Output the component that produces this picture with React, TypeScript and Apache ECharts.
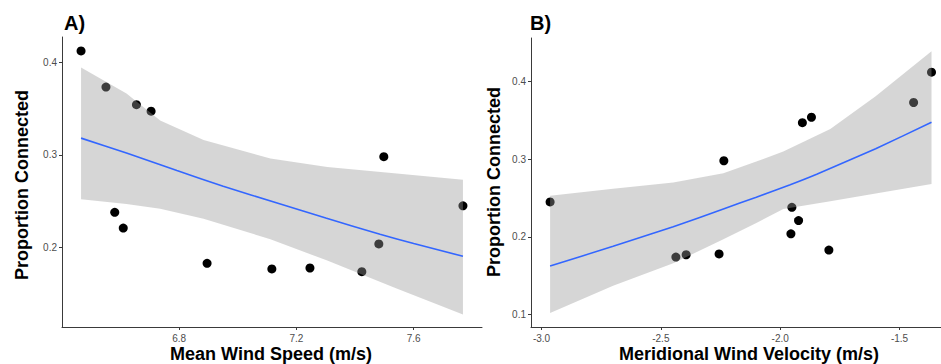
import React, { useEffect, useRef } from "react";
import * as echarts from "echarts";

// Observed data (same 13 sites in both panels)
const proportion = [0.412, 0.373, 0.354, 0.347, 0.238, 0.221, 0.183, 0.177, 0.178, 0.174, 0.204, 0.298, 0.245];
const meanWindSpeed = [6.465, 6.55, 6.654, 6.704, 6.58, 6.609, 6.895, 7.116, 7.246, 7.423, 7.481, 7.498, 7.768];
const meridionalWind = [-1.366, -1.441, -1.869, -1.907, -1.951, -1.923, -1.796, -2.394, -2.256, -2.437, -1.955, -2.236, -2.964];

// Panel A fit and confidence band
const fitAX = [6.465, 6.62, 6.792, 6.95, 7.145, 7.3, 7.485, 7.6, 7.768];
const fitAY = [0.318, 0.302, 0.283, 0.266, 0.247, 0.232, 0.2143, 0.2045, 0.1906];
const bandAX = [6.465, 6.62, 6.735, 6.883, 7.111, 7.305, 7.533, 7.768];
const bandAUpper = [0.394, 0.366, 0.337, 0.316, 0.296, 0.287, 0.28, 0.273];
const bandALower = [0.252, 0.247, 0.242, 0.231, 0.209, 0.186, 0.157, 0.128];

// Panel B fit and confidence band
const fitBX = [-2.964, -2.7, -2.448, -2.238, -2.1, -1.958, -1.847, -1.6, -1.366];
const fitBY = [0.1625, 0.188, 0.213, 0.236, 0.251, 0.267, 0.2805, 0.3135, 0.3475];
const bandBX = [-2.964, -2.7, -2.448, -2.238, -2.1, -1.987, -1.79, -1.6, -1.366];
const bandBUpper = [0.253, 0.262, 0.27, 0.282, 0.297, 0.31, 0.339, 0.381, 0.439];
const bandBLower = [0.102, 0.137, 0.166, 0.197, 0.218, 0.236, 0.246, 0.256, 0.268];

// Tick labels
const ticksAX = [6.8, 7.2, 7.6];
const ticksAY = [0.2, 0.3, 0.4];
const ticksBX = [-3.0, -2.5, -2.0, -1.5];
const ticksBY = [0.1, 0.2, 0.3, 0.4];

const FONT = "'Liberation Sans', Arial, Helvetica, sans-serif";

function axisCommon(ticks: number[], min: number, max: number, gridIndex: number, isX: boolean) {
  return {
    type: "value",
    gridIndex,
    min,
    max,
    splitLine: { show: false },
    axisLine: { show: true, onZero: false, lineStyle: { color: "#3a3a3a", width: 1 } },
    axisTick: { show: true, length: 3, lineStyle: { color: "#3a3a3a" }, customValues: ticks },
    axisLabel: {
      show: true,
      color: "#4d4d4d",
      fontSize: 10,
      fontFamily: FONT,
      margin: isX ? 6 : 5,
      customValues: ticks,
      formatter: (v: number) => v.toFixed(1),
    },
  };
}

function bandSeries(xs: number[], up: number[], lo: number[], idx: number) {
  return {
    type: "custom",
    xAxisIndex: idx,
    yAxisIndex: idx,
    z: 3,
    silent: true,
    data: [[xs[0], up[0]]],
    renderItem: (params: any, api: any) => {
      const pts: number[][] = [];
      for (let i = 0; i < xs.length; i++) pts.push(api.coord([xs[i], up[i]]));
      for (let i = xs.length - 1; i >= 0; i--) pts.push(api.coord([xs[i], lo[i]]));
      return {
        type: "polygon",
        shape: { points: pts },
        style: { fill: "rgba(153,153,153,0.4)", stroke: "none" },
      };
    },
  };
}

function lineSeries(xs: number[], ys: number[], idx: number) {
  return {
    type: "line",
    xAxisIndex: idx,
    yAxisIndex: idx,
    z: 4,
    symbol: "none",
    smooth: 0.15,
    lineStyle: { color: "#3366FF", width: 1.6 },
    data: xs.map((x, i) => [x, ys[i]]),
  };
}

function scatterSeries(xs: number[], ys: number[], idx: number) {
  return {
    type: "scatter",
    xAxisIndex: idx,
    yAxisIndex: idx,
    z: 2,
    symbolSize: 9,
    itemStyle: { color: "#000000", opacity: 1 },
    data: xs.map((x, i) => [x, ys[i]]),
  };
}

export default function App() {
  const ref = useRef<HTMLDivElement>(null);
  useEffect(() => {
    if (!ref.current) return;
    const chart = echarts.init(ref.current, null, { renderer: "svg" });
    chart.setOption({
      animation: false,
      backgroundColor: "#ffffff",
      textStyle: { fontFamily: FONT },
      grid: [
        { left: 62, top: 37, width: 420, height: 290 },
        { left: 531, top: 38, width: 419.6, height: 289 },
      ],
      xAxis: [
        axisCommon(ticksAX, 6.4, 7.833, 0, true),
        axisCommon(ticksBX, -3.044, -1.286, 1, true),
      ],
      yAxis: [
        axisCommon(ticksAY, 0.1144, 0.427, 0, false),
        axisCommon(ticksBY, 0.084, 0.456, 1, false),
      ],
      series: [
        scatterSeries(meanWindSpeed, proportion, 0),
        bandSeries(bandAX, bandAUpper, bandALower, 0),
        lineSeries(fitAX, fitAY, 0),
        scatterSeries(meridionalWind, proportion, 1),
        bandSeries(bandBX, bandBUpper, bandBLower, 1),
        lineSeries(fitBX, fitBY, 1),
      ],
      graphic: [
        { type: "text", left: 64, top: 13, style: { text: "A)", fontSize: 20, fontWeight: "bold", fill: "#000", fontFamily: FONT } },
        { type: "text", left: 530, top: 13, style: { text: "B)", fontSize: 20, fontWeight: "bold", fill: "#000", fontFamily: FONT } },
        {
          type: "text", x: 22, y: 185, rotation: Math.PI / 2,
          style: { text: "Proportion Connected", fontSize: 18, fontWeight: "bold", fill: "#000", fontFamily: FONT, align: "center", verticalAlign: "middle" },
        },
        {
          type: "text", x: 494, y: 182, rotation: Math.PI / 2,
          style: { text: "Proportion Connected", fontSize: 18, fontWeight: "bold", fill: "#000", fontFamily: FONT, align: "center", verticalAlign: "middle" },
        },
        {
          type: "text", x: 271, y: 354,
          style: { text: "Mean Wind Speed (m/s)", fontSize: 18, fontWeight: "bold", fill: "#000", fontFamily: FONT, align: "center", verticalAlign: "middle" },
        },
        {
          type: "text", x: 749, y: 354,
          style: { text: "Meridional Wind Velocity (m/s)", fontSize: 18, fontWeight: "bold", fill: "#000", fontFamily: FONT, align: "center", verticalAlign: "middle" },
        },
      ],
    });
    return () => chart.dispose();
  }, []);
  return (
    <div style={{ position: "fixed", left: 0, top: 0, width: 941, height: 364, overflow: "hidden", background: "#fff" }}>
      <div ref={ref} style={{ width: 980, height: 364 }} />
    </div>
  );
}
